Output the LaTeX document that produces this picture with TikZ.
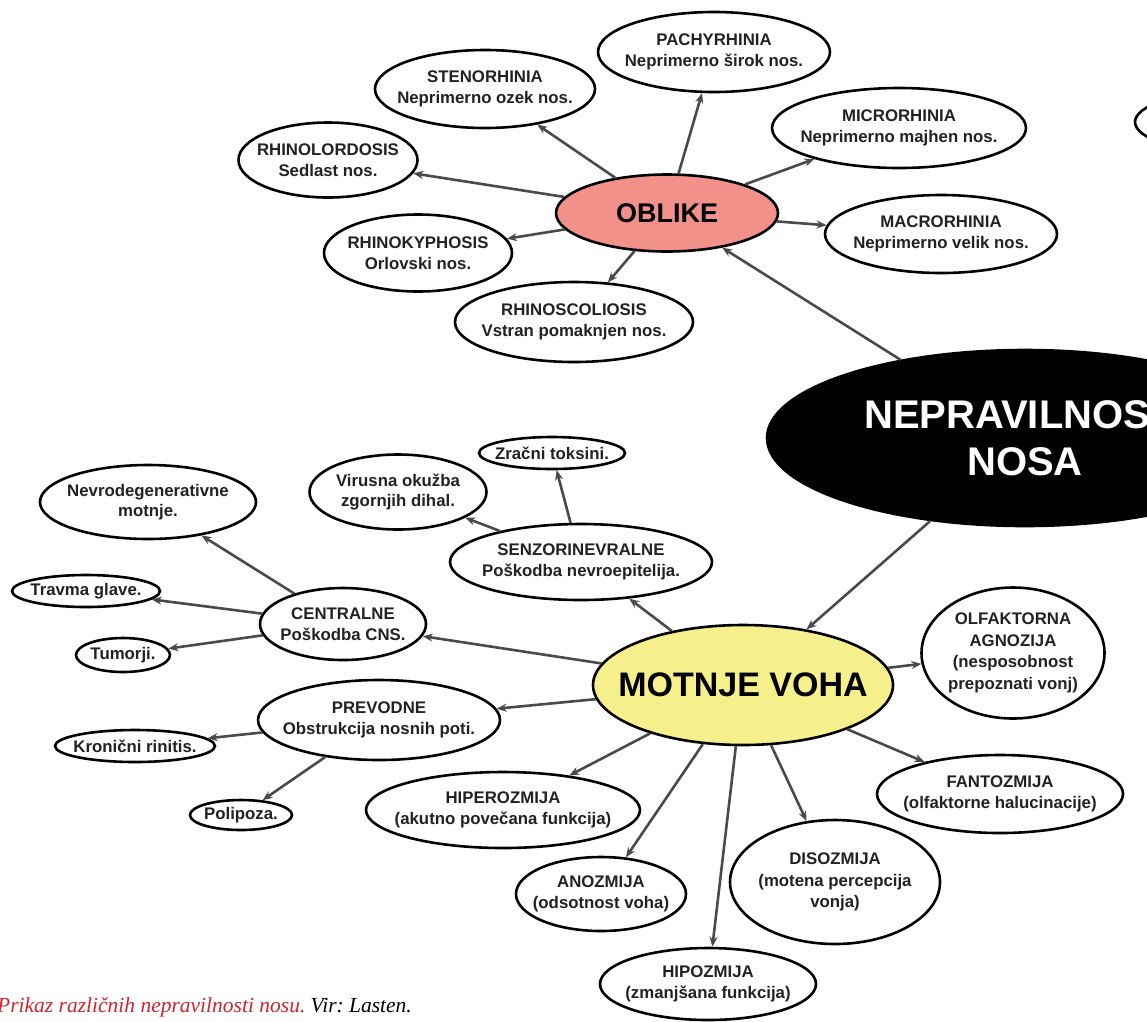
\documentclass[tikz,border=0pt]{standalone}
\usepackage{fontspec}
\setmainfont{Liberation Sans}
\newfontfamily\capfont{Liberation Serif}
\usetikzlibrary{shapes.geometric,arrows.meta}
\definecolor{salmon}{HTML}{F2918A}
\definecolor{lyellow}{HTML}{F6F08C}
\definecolor{capred}{HTML}{D2232E}
\definecolor{linegray}{HTML}{4A4A4A}
\definecolor{txtgray}{HTML}{222222}
\frenchspacing
\begin{document}
\begin{tikzpicture}[x=1pt,y=-1pt,
  bub/.style={ellipse, draw=black, line width=2.6pt, fill=white, inner sep=0pt},
  txt/.style={font=\bfseries\fontsize{16.8}{20.5}\selectfont, align=center, text=txtgray, inner sep=0pt},
  con/.style={draw=linegray, line width=2.6pt, -{Stealth[length=10pt,width=8pt]}},
]
\clip (0,0) rectangle (1147,1021);
\fill[white] (0,0) rectangle (1147,1021);

% main nodes
\node[bub, fill=black, minimum width=516, minimum height=176,
  label={[font=\bfseries\fontsize{40}{47}\selectfont, text=white, align=center, inner sep=0pt]center:NEPRAVILNOSTI\\NOSA}] (nepr) at (1025,438) {};
\node[bub, minimum width=190, minimum height=60] (extra) at (1230,122) {};
\node[bub, fill=salmon, minimum width=222, minimum height=77,
  label={[txt, font=\bfseries\fontsize{27}{30}\selectfont, text=black]center:OBLIKE}] (oblike) at (667,213) {};
\node[bub, fill=lyellow, minimum width=300, minimum height=120,
  label={[txt, font=\bfseries\fontsize{34}{38}\selectfont, text=black]center:MOTNJE VOHA}] (motnje) at (743,685) {};

% OBLIKE children
\node[bub, minimum width=232, minimum height=80, label={[txt]center:PACHYRHINIA\\Neprimerno širok nos.}] (pach) at (714,52) {};
\node[bub, minimum width=220, minimum height=78, label={[txt]center:STENORHINIA\\Neprimerno ozek nos.}] (sten) at (485,89) {};
\node[bub, minimum width=179, minimum height=75, label={[txt]center:RHINOLORDOSIS\\Sedlast nos.}] (lord) at (328,160) {};
\node[bub, minimum width=188, minimum height=77, label={[txt]center:RHINOKYPHOSIS\\Orlovski nos.}] (kyph) at (418,253) {};
\node[bub, minimum width=238, minimum height=80, label={[txt]center:RHINOSCOLIOSIS\\Vstran pomaknjen nos.}] (scol) at (574,322) {};
\node[bub, minimum width=254, minimum height=80, label={[txt]center:MICRORHINIA\\Neprimerno majhen nos.}] (micr) at (899,128) {};
\node[bub, minimum width=232, minimum height=78, label={[txt]center:MACRORHINIA\\Neprimerno velik nos.}] (macr) at (941,234) {};

% MOTNJE VOHA children
\node[bub, minimum width=183, minimum height=131, label={[txt, font=\bfseries\fontsize{16.8}{21.5}\selectfont]center:OLFAKTORNA\\AGNOZIJA\\(nesposobnost\\prepoznati vonj)}] (olf) at (1013,653) {};
\node[bub, minimum width=246, minimum height=78, label={[txt]center:FANTOZMIJA\\(olfaktorne halucinacije)}] (fant) at (1000,794) {};
\node[bub, minimum width=210, minimum height=124, label={[txt, font=\bfseries\fontsize{16.8}{21.5}\selectfont]center:DISOZMIJA\\(motena percepcija\\vonja)}] (diso) at (835,882) {};
\node[bub, minimum width=216, minimum height=72, label={[txt]center:HIPOZMIJA\\(zmanjšana funkcija)}] (hipo) at (708,984) {};
\node[bub, minimum width=170, minimum height=74, label={[txt]center:ANOZMIJA\\(odsotnost voha)}] (anoz) at (601,894) {};
\node[bub, minimum width=274, minimum height=76, label={[txt]center:HIPEROZMIJA\\(akutno povečana funkcija)}] (hiper) at (503,810) {};
\node[bub, minimum width=242, minimum height=80, label={[txt]center:PREVODNE\\Obstrukcija nosnih poti.}] (prev) at (379,720) {};
\node[bub, minimum width=166, minimum height=72, label={[txt]center:CENTRALNE\\Poškodba CNS.}] (centr) at (343,624) {};
\node[bub, minimum width=262, minimum height=76, label={[txt]center:SENZORINEVRALNE\\Poškodba nevroepitelija.}] (senz) at (581,562) {};

% grandchildren
\node[bub, minimum width=160, minimum height=32, label={[txt]center:Kronični rinitis.}] (kron) at (135,746) {};
\node[bub, minimum width=102, minimum height=30, label={[txt]center:Polipoza.}] (poli) at (241,815) {};
\node[bub, minimum width=148, minimum height=32, label={[txt]center:Travma glave.}] (trav) at (86,591) {};
\node[bub, minimum width=94, minimum height=34, label={[txt]center:Tumorji.}] (tum) at (123,655) {};
\node[bub, minimum width=216, minimum height=74, label={[txt]center:Nevrodegenerativne\\motnje.}] (nevr) at (148,502) {};
\node[bub, minimum width=177, minimum height=75, label={[txt]center:Virusna okužba\\zgornjih dihal.}] (vir) at (398,492) {};
\node[bub, minimum width=146, minimum height=32, label={[txt]center:Zračni toksini.}] (zrac) at (552,453) {};

% connectors
\draw[con] (nepr) -- (oblike);
\draw[con] (nepr) -- (motnje);
\foreach \c in {pach,sten,lord,kyph,scol,micr,macr} \draw[con] (oblike) -- (\c);
\foreach \c in {olf,fant,diso,hipo,anoz,hiper,prev,centr,senz} \draw[con] (motnje) -- (\c);
\draw[con] (senz) -- (vir);
\draw[con] (senz) -- (zrac);
\draw[con] (centr) -- (nevr);
\draw[con] (centr) -- (trav);
\draw[con] (centr) -- (tum);
\draw[con] (prev) -- (kron);
\draw[con] (prev) -- (poli);

% caption
\node[anchor=base west, inner sep=0pt, font=\capfont\itshape\fontsize{21.5}{25}\selectfont] (cap) at (-3,1012)
  {\textcolor{capred}{Prikaz različnih nepravilnosti nosu.} Vir: Lasten.};
\end{tikzpicture}
\end{document}
